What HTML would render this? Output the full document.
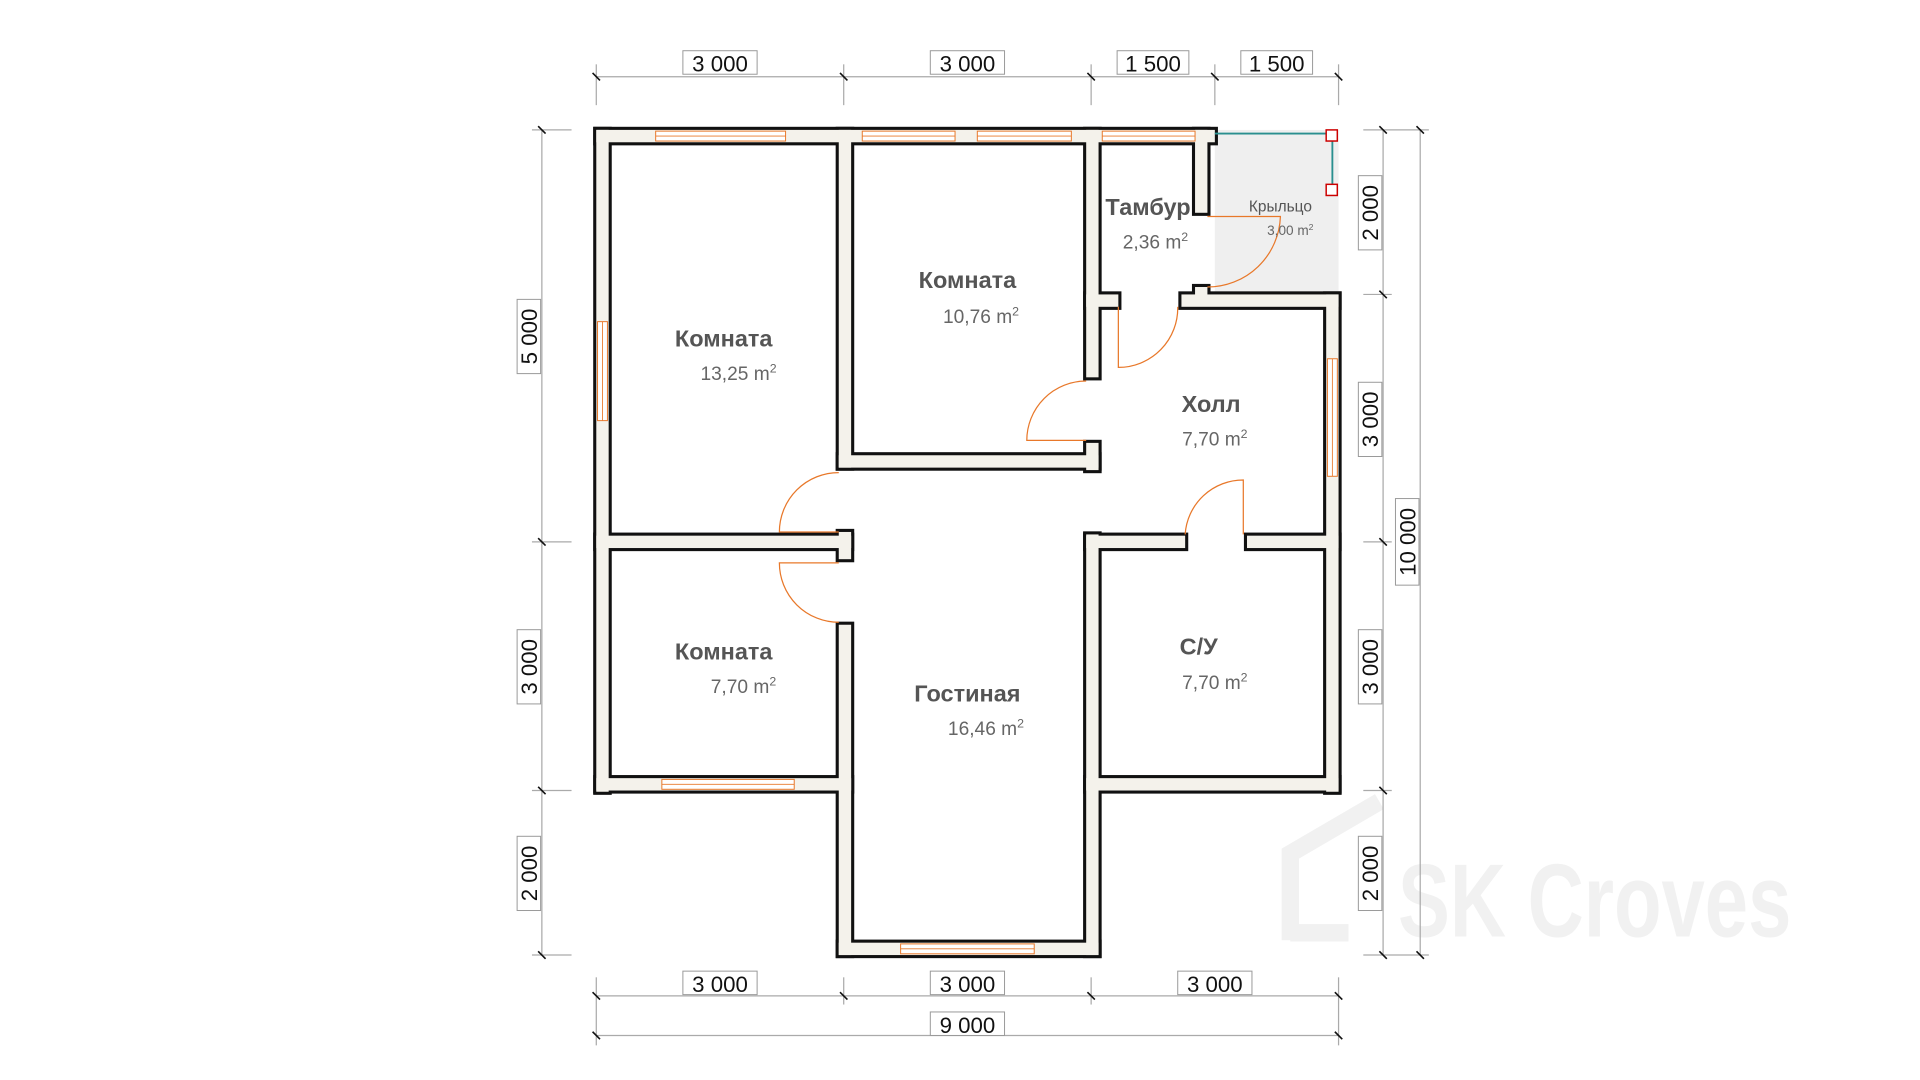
<!DOCTYPE html>
<html><head><meta charset="utf-8"><style>
html,body{margin:0;padding:0;background:#fff;width:1920px;height:1080px;overflow:hidden}
svg{display:block}
text{font-family:"Liberation Sans","Noto Sans CJK SC",sans-serif}
.dim{font-size:18px;fill:#111}
.dl{stroke:#aaa;stroke-width:1;fill:none}
.tk{stroke:#111;stroke-width:1.3}
.lb{fill:#fff;stroke:#999;stroke-width:0.8}
.rn{font-size:19px;font-weight:bold;fill:#555}
.ra{font-size:15.5px;fill:#666}
.door{stroke:#e8782a;stroke-width:1;fill:none}
</style></head><body>
<svg width="1920" height="1080" viewBox="0 0 1552 873" xmlns="http://www.w3.org/2000/svg">
<rect width="1552" height="873" fill="#fff"/>
<!-- watermark -->
<g fill="none" stroke="#f1f1f1" stroke-width="14">
<path d="M1043 760 V690 L1115 648"/>
<path d="M1043 754 H1090"/>
</g>
<text x="1130" y="757" font-size="84" font-weight="bold" fill="#f1f1f1" textLength="318" lengthAdjust="spacingAndGlyphs">SK Croves</text>
<!-- porch -->
<rect x="982" y="105" width="100" height="133" fill="#efefef"/>
<defs>
<g id="walls">
<rect x="482" y="105" width="10" height="535"/>
<rect x="482" y="105" width="500" height="10"/>
<rect x="678" y="105" width="10" height="273"/>
<rect x="678" y="368" width="210" height="10"/>
<rect x="878" y="358" width="10" height="22"/>
<rect x="878" y="105" width="10" height="200"/>
<rect x="878" y="238" width="26" height="10"/>
<rect x="966" y="105" width="10" height="67"/>
<rect x="955" y="238" width="127" height="10"/>
<rect x="966" y="232" width="10" height="10"/>
<rect x="1072" y="238" width="10" height="402"/>
<rect x="482" y="433" width="206" height="10"/>
<rect x="678" y="430" width="10" height="22"/>
<rect x="678" y="505" width="10" height="267"/>
<rect x="482" y="629" width="206" height="10"/>
<rect x="678" y="762" width="210" height="10"/>
<rect x="878" y="432" width="10" height="340"/>
<rect x="878" y="433" width="80" height="10"/>
<rect x="1008" y="433" width="74" height="10"/>
<rect x="878" y="629" width="204" height="10"/>
</g>
</defs>
<use href="#walls" fill="#111" stroke="#111" stroke-width="5"/>
<use href="#walls" fill="#f4f2eb" stroke="none"/>
<!-- windows -->
<g fill="#fff" stroke="#e8782a" stroke-width="0.8">
<rect x="530" y="106" width="105" height="8"/>
<rect x="697" y="106" width="75" height="8"/>
<rect x="790" y="106" width="76" height="8"/>
<rect x="891" y="106" width="75" height="8"/>
<rect x="483" y="260" width="8" height="80"/>
<rect x="1073" y="290" width="8" height="95"/>
<rect x="535" y="630" width="107" height="8"/>
<rect x="728" y="763" width="108" height="8"/>
</g>
<g stroke="#e8782a" stroke-width="0.7">
<line x1="530" y1="110" x2="635" y2="110"/><line x1="697" y1="110" x2="772" y2="110"/>
<line x1="790" y1="110" x2="866" y2="110"/><line x1="891" y1="110" x2="966" y2="110"/>
<line x1="487" y1="260" x2="487" y2="340"/><line x1="1077" y1="290" x2="1077" y2="385"/>
<line x1="535" y1="634" x2="642" y2="634"/><line x1="728" y1="767" x2="836" y2="767"/>
</g>
<!-- porch rails -->
<g stroke="#2a8f8f" stroke-width="1.5"><line x1="982" y1="108" x2="1077" y2="108"/><line x1="1077" y1="110" x2="1077" y2="153"/></g>
<g fill="#fff" stroke="#c00" stroke-width="1.2"><rect x="1072" y="105" width="9" height="9"/><rect x="1072" y="149" width="9" height="9"/></g>
<!-- doors -->
<path class="door" d="M976 175 H1035 A59 59 0 0 1 976 232"/>
<path class="door" d="M904 248 V297 A48 48 0 0 0 952 248"/>
<path class="door" d="M878 356 H830 A48 48 0 0 1 878 308"/>
<path class="door" d="M678 430 H630 A48 48 0 0 1 678 382"/>
<path class="door" d="M678 455 H630 A48 48 0 0 0 678 503"/>
<path class="door" d="M1005 432 V388 A47 47 0 0 0 958 432"/>
<!-- room labels -->
<text class="rn" x="585" y="280" text-anchor="middle">Комната</text>
<text class="ra" x="597" y="307" text-anchor="middle">13,25 m<tspan font-size="10" dy="-6">2</tspan></text>
<text class="rn" x="782" y="233" text-anchor="middle">Комната</text>
<text class="ra" x="793" y="261" text-anchor="middle">10,76 m<tspan font-size="10" dy="-6">2</tspan></text>
<text class="rn" x="928" y="174" text-anchor="middle">Тамбур</text>
<text class="ra" x="934" y="201" text-anchor="middle">2,36 m<tspan font-size="10" dy="-6">2</tspan></text>
<text x="1035" y="171" text-anchor="middle" font-size="12.5" fill="#555">Крыльцо</text>
<text x="1043" y="190" text-anchor="middle" font-size="11" fill="#666">3,00 m<tspan font-size="7" dy="-4">2</tspan></text>
<text class="rn" x="979" y="333" text-anchor="middle">Холл</text>
<text class="ra" x="982" y="360" text-anchor="middle">7,70 m<tspan font-size="10" dy="-6">2</tspan></text>
<text class="rn" x="585" y="533" text-anchor="middle">Комната</text>
<text class="ra" x="601" y="560" text-anchor="middle">7,70 m<tspan font-size="10" dy="-6">2</tspan></text>
<text class="rn" x="782" y="567" text-anchor="middle">Гостиная</text>
<text class="ra" x="797" y="594" text-anchor="middle">16,46 m<tspan font-size="10" dy="-6">2</tspan></text>
<text class="rn" x="969" y="529" text-anchor="middle">С/У</text>
<text class="ra" x="982" y="557" text-anchor="middle">7,70 m<tspan font-size="10" dy="-6">2</tspan></text>
<!-- top dims -->
<line class="dl" x1="482" y1="62" x2="1082" y2="62"/>
<g class="dl"><line x1="482" y1="52" x2="482" y2="85"/><line x1="682" y1="52" x2="682" y2="85"/><line x1="882" y1="52" x2="882" y2="85"/><line x1="982" y1="52" x2="982" y2="85"/><line x1="1082" y1="52" x2="1082" y2="85"/></g>
<g class="tk"><line x1="479" y1="59" x2="485" y2="65"/><line x1="679" y1="59" x2="685" y2="65"/><line x1="879" y1="59" x2="885" y2="65"/><line x1="979" y1="59" x2="985" y2="65"/><line x1="1079" y1="59" x2="1085" y2="65"/></g>
<g class="lb"><rect x="552" y="41" width="60" height="19"/><rect x="752" y="41" width="60" height="19"/><rect x="903" y="41" width="58" height="19"/><rect x="1003" y="41" width="58" height="19"/></g>
<g class="dim" text-anchor="middle"><text x="582" y="58">3 000</text><text x="782" y="58">3 000</text><text x="932" y="58">1 500</text><text x="1032" y="58">1 500</text></g>
<!-- bottom dims -->
<line class="dl" x1="482" y1="805" x2="1082" y2="805"/>
<line class="dl" x1="482" y1="837" x2="1082" y2="837"/>
<g class="dl"><line x1="482" y1="790" x2="482" y2="845"/><line x1="682" y1="790" x2="682" y2="812"/><line x1="882" y1="790" x2="882" y2="812"/><line x1="1082" y1="790" x2="1082" y2="845"/></g>
<g class="tk"><line x1="479" y1="802" x2="485" y2="808"/><line x1="679" y1="802" x2="685" y2="808"/><line x1="879" y1="802" x2="885" y2="808"/><line x1="1079" y1="802" x2="1085" y2="808"/><line x1="479" y1="834" x2="485" y2="840"/><line x1="1079" y1="834" x2="1085" y2="840"/></g>
<g class="lb"><rect x="552" y="785" width="60" height="19"/><rect x="752" y="785" width="60" height="19"/><rect x="952" y="785" width="60" height="19"/><rect x="752" y="818" width="60" height="19"/></g>
<g class="dim" text-anchor="middle"><text x="582" y="802">3 000</text><text x="782" y="802">3 000</text><text x="982" y="802">3 000</text><text x="782" y="835">9 000</text></g>
<!-- left dims -->
<line class="dl" x1="438" y1="105" x2="438" y2="772"/>
<g class="dl"><line x1="430" y1="105" x2="462" y2="105"/><line x1="430" y1="438" x2="462" y2="438"/><line x1="430" y1="639" x2="462" y2="639"/><line x1="430" y1="772" x2="462" y2="772"/></g>
<g class="tk"><line x1="435" y1="102" x2="441" y2="108"/><line x1="435" y1="435" x2="441" y2="441"/><line x1="435" y1="636" x2="441" y2="642"/><line x1="435" y1="769" x2="441" y2="775"/></g>
<g class="lb"><rect x="418" y="242" width="19" height="60"/><rect x="418" y="509" width="19" height="60"/><rect x="418" y="676" width="19" height="60"/></g>
<g class="dim" text-anchor="middle"><text transform="translate(434 272) rotate(-90)">5 000</text><text transform="translate(434 539) rotate(-90)">3 000</text><text transform="translate(434 706) rotate(-90)">2 000</text></g>
<!-- right dims -->
<line class="dl" x1="1118" y1="105" x2="1118" y2="772"/>
<line class="dl" x1="1148" y1="105" x2="1148" y2="772"/>
<g class="dl"><line x1="1102" y1="105" x2="1155" y2="105"/><line x1="1102" y1="238" x2="1125" y2="238"/><line x1="1102" y1="438" x2="1125" y2="438"/><line x1="1102" y1="639" x2="1125" y2="639"/><line x1="1102" y1="772" x2="1155" y2="772"/></g>
<g class="tk"><line x1="1115" y1="102" x2="1121" y2="108"/><line x1="1115" y1="235" x2="1121" y2="241"/><line x1="1115" y1="435" x2="1121" y2="441"/><line x1="1115" y1="636" x2="1121" y2="642"/><line x1="1115" y1="769" x2="1121" y2="775"/><line x1="1145" y1="102" x2="1151" y2="108"/><line x1="1145" y1="769" x2="1151" y2="775"/></g>
<g class="lb"><rect x="1098" y="142" width="19" height="60"/><rect x="1098" y="309" width="19" height="60"/><rect x="1098" y="509" width="19" height="60"/><rect x="1098" y="676" width="19" height="60"/><rect x="1128" y="403" width="19" height="70"/></g>
<g class="dim" text-anchor="middle"><text transform="translate(1114 172) rotate(-90)">2 000</text><text transform="translate(1114 339) rotate(-90)">3 000</text><text transform="translate(1114 539) rotate(-90)">3 000</text><text transform="translate(1114 706) rotate(-90)">2 000</text><text transform="translate(1144 438) rotate(-90)">10 000</text></g>
</svg>
</body></html>
